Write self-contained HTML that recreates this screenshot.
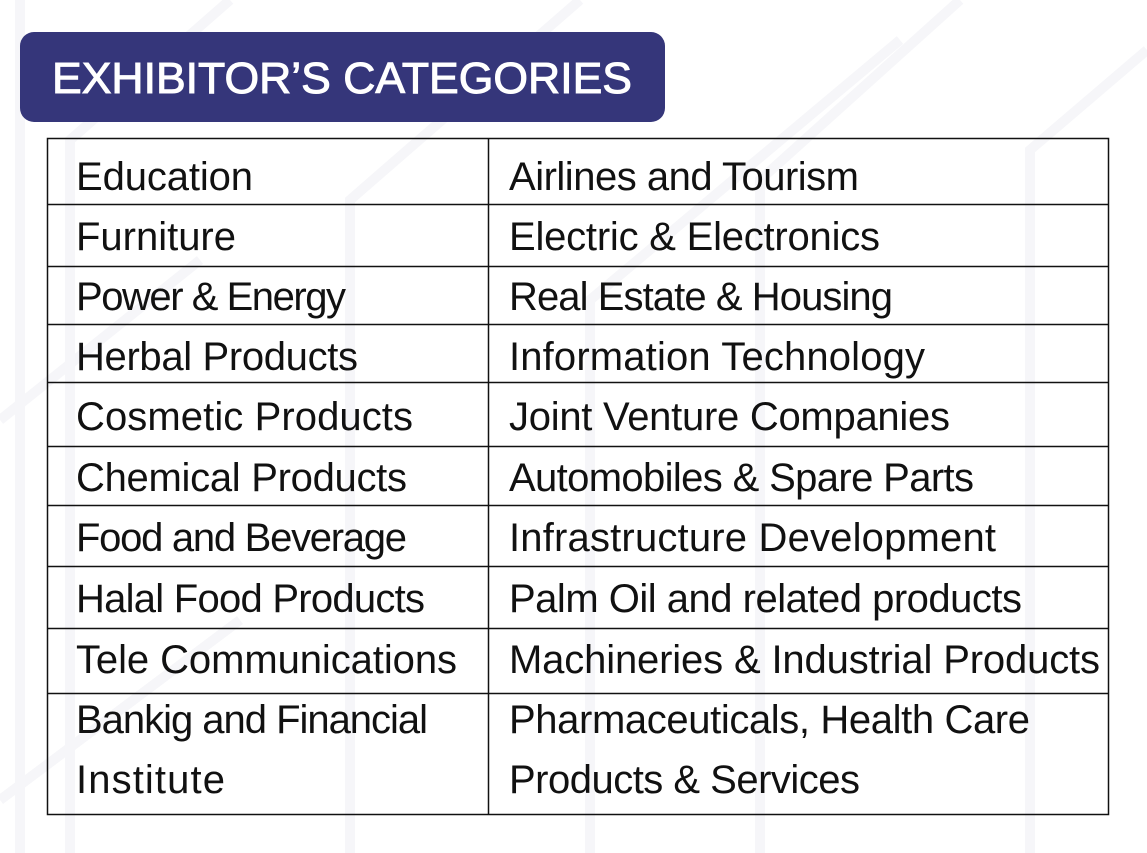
<!DOCTYPE html>
<html><head><meta charset="utf-8"><style>
html,body{margin:0;padding:0;background:#fff;}
svg{display:block;}
</style></head><body>
<svg width="1147" height="853" viewBox="0 0 1147 853" xmlns="http://www.w3.org/2000/svg">
<g stroke="#f6f6f9" stroke-width="10" fill="none">
<path d="M20 853 V0"/><path d="M70 853 V140 L230 0"/><path d="M350 853 V200 L580 0"/><path d="M760 853 V180 L960 0"/><path d="M1030 853 V150 L1147 50"/><path d="M590 853 V300 L900 40"/><path d="M0 420 L200 260"/><path d="M0 800 L240 620"/>
</g>
<rect x="20" y="32" width="645" height="90" rx="14" fill="#35367a"/>
<text x="52" y="93" fill="#fff" stroke="#fff" stroke-width="1" font-family="Liberation Sans, sans-serif" font-size="44" textLength="580" lengthAdjust="spacingAndGlyphs">EXHIBITOR’S CATEGORIES</text>
<g stroke="#111" stroke-width="1.5" fill="none">
<rect x="47.5" y="138.5" width="1061" height="676"/>
<line x1="488.5" y1="138" x2="488.5" y2="815"/>
<line x1="47" y1="204.5" x2="1109" y2="204.5"/>
<line x1="47" y1="266.5" x2="1109" y2="266.5"/>
<line x1="47" y1="324.5" x2="1109" y2="324.5"/>
<line x1="47" y1="382.5" x2="1109" y2="382.5"/>
<line x1="47" y1="446.5" x2="1109" y2="446.5"/>
<line x1="47" y1="505.5" x2="1109" y2="505.5"/>
<line x1="47" y1="566.5" x2="1109" y2="566.5"/>
<line x1="47" y1="628.5" x2="1109" y2="628.5"/>
<line x1="47" y1="693.5" x2="1109" y2="693.5"/>
</g>
<g font-family="Liberation Sans, sans-serif" font-size="40" fill="#111" lengthAdjust="spacingAndGlyphs">
<text x="76" y="190" textLength="177">Education</text>
<text x="76" y="250" textLength="160">Furniture</text>
<text x="76" y="310" textLength="270">Power &amp; Energy</text>
<text x="76" y="370" textLength="282">Herbal Products</text>
<text x="76" y="430" textLength="337">Cosmetic Products</text>
<text x="76" y="491" textLength="331">Chemical Products</text>
<text x="76" y="551" textLength="331">Food and Beverage</text>
<text x="76" y="612" textLength="349">Halal Food Products</text>
<text x="76" y="673" textLength="381">Tele Communications</text>
<text x="76" y="733" textLength="352">Bankig and Financial</text>
<text x="76" y="793" textLength="149">Institute</text>
<text x="509" y="190" textLength="350">Airlines and Tourism</text>
<text x="509" y="250" textLength="371">Electric &amp; Electronics</text>
<text x="509" y="310" textLength="384">Real Estate &amp; Housing</text>
<text x="509" y="370" textLength="416">Information Technology</text>
<text x="509" y="430" textLength="441">Joint Venture Companies</text>
<text x="509" y="491" textLength="465">Automobiles &amp; Spare Parts</text>
<text x="509" y="551" textLength="487">Infrastructure Development</text>
<text x="509" y="612" textLength="513">Palm Oil and related products</text>
<text x="509" y="673" textLength="591">Machineries &amp; Industrial Products</text>
<text x="509" y="733" textLength="521">Pharmaceuticals, Health Care</text>
<text x="509" y="793" textLength="351">Products &amp; Services</text>
</g>
</svg>
</body></html>
